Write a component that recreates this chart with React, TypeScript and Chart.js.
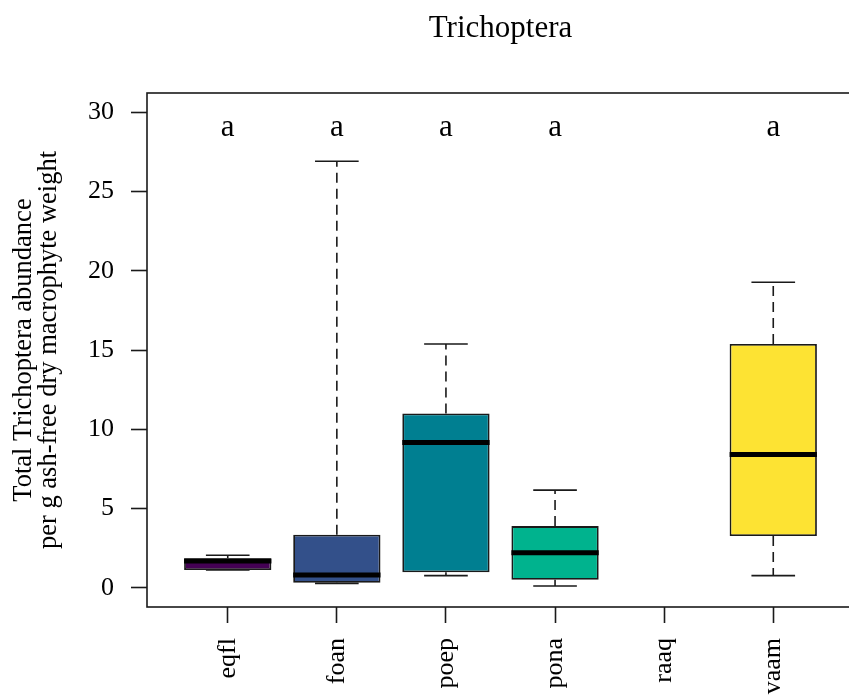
import { useEffect, useRef } from 'react';
import { Chart, registerables } from 'chart.js';

Chart.register(...registerables);

// Groups along the x axis and their five-number summaries
const categories = ['eqfl', 'foan', 'poep', 'pona', 'raaq', 'vaam'];
const positions = [1, 2, 3, 4, 5, 6];
const whiskerLow = [1.13, 0.29, 0.78, 0.12, null, 0.78];
const lowerQuartile = [1.13, 0.33, 0.99, 0.52, null, 3.27];
const medians = [1.7, 0.82, 9.17, 2.22, null, 8.42];
const upperQuartile = [1.88, 3.36, 11.0, 3.9, null, 15.38];
const whiskerHigh = [2.06, 26.9, 15.38, 6.17, null, 19.27];

// Compact-letter display above each group
const groupLetters = ['a', 'a', 'a', 'a', '', 'a'];
const letterLevel = 29;

const boxColors = ['#440154', '#33508A', '#007F91', '#00B38E', '#7AD151', '#FDE333'];

const yTicks = [0, 5, 10, 15, 20, 25, 30];
const yLimits = [0, 30];

const chartTitle = 'Trichoptera';
const yTitleLines = ['Total Trichoptera abundance', 'per g ash-free dry macrophyte weight'];

const SERIF = '"Liberation Serif", "Times New Roman", serif';
const INK = '#1a1a1a';

// base-graphics style 4% axis extension
const ySpan = yLimits[1] - yLimits[0];
const yMin = yLimits[0] - 0.04 * ySpan;
const yMax = yLimits[1] + 0.04 * ySpan;
const xSpan = positions.length;
const xMin = 0.5 - 0.04 * xSpan;
const xMax = positions.length + 0.5 + 0.04 * xSpan;

const boxplotExtras = {
  id: 'boxplotExtras',
  beforeDatasetsDraw(chart: any) {
    const { ctx, scales } = chart;
    const xs = scales.x;
    const ys = scales.y;
    const meta = chart.getDatasetMeta(0);
    ctx.save();
    ctx.strokeStyle = INK;
    ctx.lineWidth = 1.6;
    positions.forEach((p, i) => {
      const hi = whiskerHigh[i];
      const lo = whiskerLow[i];
      const q1 = lowerQuartile[i];
      const q3 = upperQuartile[i];
      if (hi == null || lo == null || q1 == null || q3 == null) return;
      const cx = xs.getPixelForValue(p);
      const half = meta.data[i].width / 2;
      ctx.setLineDash([10, 6]);
      ctx.beginPath();
      ctx.moveTo(cx, ys.getPixelForValue(q3));
      ctx.lineTo(cx, ys.getPixelForValue(hi));
      ctx.moveTo(cx, ys.getPixelForValue(q1));
      ctx.lineTo(cx, ys.getPixelForValue(lo));
      ctx.stroke();
      ctx.setLineDash([]);
      ctx.beginPath();
      [hi, lo].forEach((v) => {
        const py = ys.getPixelForValue(v);
        ctx.moveTo(cx - half / 2, py);
        ctx.lineTo(cx + half / 2, py);
      });
      ctx.stroke();
    });
    ctx.restore();
  },
  afterDatasetsDraw(chart: any) {
    const { ctx, scales, chartArea } = chart;
    const xs = scales.x;
    const ys = scales.y;
    const meta = chart.getDatasetMeta(0);
    ctx.save();
    // medians
    ctx.strokeStyle = '#000';
    ctx.lineWidth = 5;
    positions.forEach((p, i) => {
      const m = medians[i];
      if (m == null) return;
      const cx = xs.getPixelForValue(p);
      const half = meta.data[i].width / 2;
      const py = ys.getPixelForValue(m);
      ctx.beginPath();
      ctx.moveTo(cx - half, py);
      ctx.lineTo(cx + half, py);
      ctx.stroke();
    });
    // group letters
    ctx.fillStyle = '#000';
    ctx.font = `31px ${SERIF}`;
    ctx.textAlign = 'center';
    ctx.textBaseline = 'middle';
    positions.forEach((p, i) => {
      if (!groupLetters[i]) return;
      ctx.fillText(groupLetters[i], xs.getPixelForValue(p), ys.getPixelForValue(letterLevel));
    });
    // plot frame
    ctx.strokeStyle = INK;
    ctx.lineWidth = 1.6;
    ctx.strokeRect(chartArea.left, chartArea.top, chartArea.right - chartArea.left, chartArea.bottom - chartArea.top);
    ctx.restore();
  },
  afterDraw(chart: any) {
    const { ctx, chartArea } = chart;
    ctx.save();
    ctx.fillStyle = '#000';
    ctx.textAlign = 'center';
    ctx.textBaseline = 'alphabetic';
    ctx.font = `31px ${SERIF}`;
    ctx.fillText(chartTitle, (chartArea.left + chartArea.right) / 2, 37);
    ctx.font = `26.5px ${SERIF}`;
    const midY = (chartArea.top + chartArea.bottom) / 2;
    const baselines = [31, 56];
    yTitleLines.forEach((line, k) => {
      ctx.save();
      ctx.translate(baselines[k], midY);
      ctx.rotate(-Math.PI / 2);
      ctx.fillText(line, 0, 0);
      ctx.restore();
    });
    ctx.restore();
  },
};

export default function App() {
  const canvasRef = useRef<HTMLCanvasElement | null>(null);

  useEffect(() => {
    const canvas = canvasRef.current;
    if (!canvas) return;
    const chart = new Chart(canvas, {
      type: 'bar',
      data: {
        datasets: [
          {
            data: positions.map((p, i) => ({
              x: p,
              y: lowerQuartile[i] == null ? null : [lowerQuartile[i], upperQuartile[i]],
            })) as any,
            backgroundColor: boxColors,
            borderColor: INK,
            borderWidth: 1.8,
            borderSkipped: false,
            categoryPercentage: 0.8,
            barPercentage: 1,
          },
        ],
      },
      options: {
        responsive: false,
        animation: false,
        devicePixelRatio: 1,
        layout: { padding: { left: 0, top: 93, right: 26, bottom: 0 } },
        plugins: {
          legend: { display: false },
          tooltip: { enabled: false },
          title: { display: false },
        },
        scales: {
          x: {
            type: 'linear',
            min: xMin,
            max: xMax,
            offset: false,
            afterBuildTicks: (scale: any) => {
              scale.ticks = positions.map((v) => ({ value: v }));
            },
            afterFit: (scale: any) => {
              scale.height = 88;
            },
            ticks: {
              autoSkip: false,
              minRotation: 90,
              maxRotation: 90,
              padding: 15,
              color: '#000',
              font: { family: SERIF, size: 26 },
              callback: (v: any) => categories[Math.round(Number(v)) - 1] ?? '',
            },
            grid: {
              display: true,
              offset: false,
              drawOnChartArea: false,
              drawTicks: true,
              tickLength: 16,
              tickColor: INK,
              tickWidth: 1.6,
            },
            border: { display: false },
          },
          y: {
            type: 'linear',
            min: yMin,
            max: yMax,
            afterBuildTicks: (scale: any) => {
              scale.ticks = yTicks.map((v) => ({ value: v }));
            },
            afterFit: (scale: any) => {
              scale.width = 147;
            },
            ticks: {
              padding: 17,
              color: '#000',
              font: { family: SERIF, size: 26 },
              callback: (v: any) => String(v),
            },
            grid: {
              display: true,
              drawOnChartArea: false,
              drawTicks: true,
              tickLength: 16,
              tickColor: INK,
              tickWidth: 1.6,
            },
            border: { display: false },
          },
        },
      } as any,
      plugins: [boxplotExtras],
    });
    return () => chart.destroy();
  }, []);

  return (
    <div
      style={{
        position: 'absolute',
        left: 0,
        top: 0,
        width: 849,
        height: 695,
        overflow: 'hidden',
        background: '#fff',
      }}
    >
      <canvas ref={canvasRef} width={880} height={695} style={{ display: 'block' }} />
    </div>
  );
}
